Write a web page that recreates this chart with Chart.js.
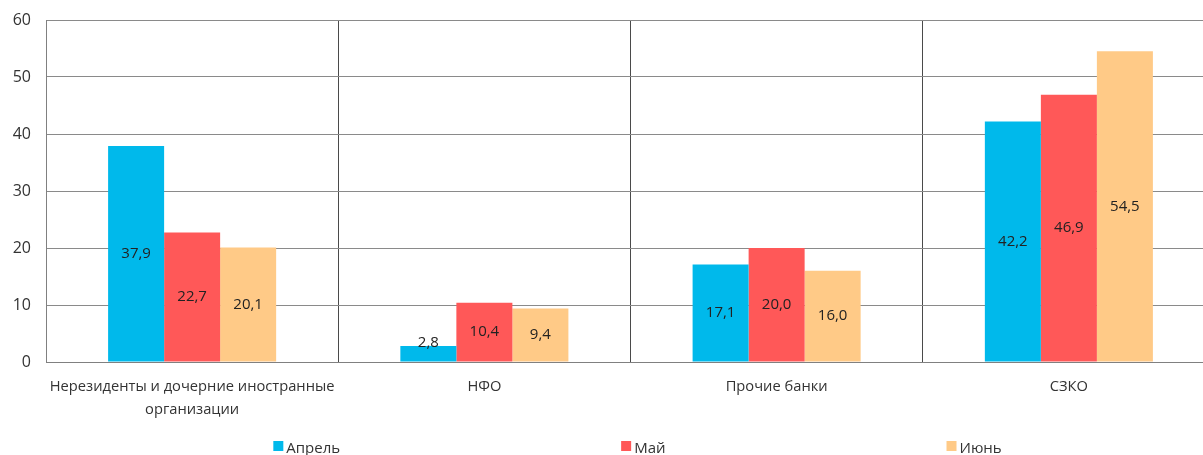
<!DOCTYPE html>
<html>
<head>
<meta charset="utf-8">
<script src="https://cdn.jsdelivr.net/npm/chart.js@4.4.1/dist/chart.umd.min.js"></script>
<style>
  html, body { margin: 0; padding: 0; background: #fff; overflow: hidden; }
  #wrap { width: 1216px; height: 455px; position: relative; }
</style>
</head>
<body>
<div id="wrap"><canvas id="c"></canvas></div>
<script>
const categories = [
  ["Нерезиденты и дочерние иностранные", "организации"],
  "НФО",
  "Прочие банки",
  "СЗКО"
];
const seriesNames = ["Апрель", "Май", "Июнь"];
const aprilValues = [37.9, 2.8, 17.1, 42.2];
const mayValues = [22.7, 10.4, 20.0, 46.9];
const juneValues = [20.1, 9.4, 16.0, 54.5];
const yTicks = [0, 10, 20, 30, 40, 50, 60];

const colors = ["rgb(0,185,235)", "rgb(255,88,88)", "rgb(255,202,135)"];
const FONT = "'Open Sans', Lato, sans-serif";
const TEXT = "#333333";

const labelPlugin = {
  id: "barLabels",
  afterDatasetsDraw(chart) {
    const ctx = chart.ctx;
    ctx.save();
    ctx.font = "15px " + FONT;
    ctx.fillStyle = "#222222";
    ctx.textAlign = "center";
    ctx.textBaseline = "middle";
    chart.data.datasets.forEach((ds, i) => {
      const meta = chart.getDatasetMeta(i);
      meta.data.forEach((bar, j) => {
        const v = ds.data[j];
        const mid = (bar.y + bar.base) / 2;
        const y = Math.min(mid, bar.base - 19);
        ctx.fillText(v.toFixed(1).replace(".", ","), bar.x, y);
      });
    });
    ctx.restore();
  }
};

const legendPlugin = {
  id: "customLegend",
  afterDraw(chart) {
    const ctx = chart.ctx;
    ctx.save();
    ctx.font = "15px " + FONT;
    ctx.textBaseline = "middle";
    ctx.textAlign = "left";
    const box = 10, gapText = 3, gap = 281;
    const items = chart.data.datasets.map(ds => ({
      label: ds.label, color: ds.backgroundColor,
      w: box + gapText + ctx.measureText(ds.label).width
    }));
    const total = items.reduce((s, it) => s + it.w, 0) + gap * (items.length - 1);
    const cx = (chart.chartArea.left + chart.chartArea.right) / 2 + 7;
    let x = cx - total / 2;
    const yBox = 441;
    items.forEach(it => {
      ctx.fillStyle = it.color;
      ctx.fillRect(x, yBox, box, box);
      ctx.fillStyle = TEXT;
      ctx.fillText(it.label, x + box + gapText, yBox + 8);
      x += it.w + gap;
    });
    ctx.restore();
  }
};

new Chart(document.getElementById("c"), {
  type: "bar",
  data: {
    labels: categories,
    datasets: [
      { label: seriesNames[0], data: aprilValues, backgroundColor: colors[0] },
      { label: seriesNames[1], data: mayValues, backgroundColor: colors[1] },
      { label: seriesNames[2], data: juneValues, backgroundColor: colors[2] }
    ]
  },
  options: {
    responsive: true,
    maintainAspectRatio: false,
    animation: false,
    layout: { padding: { top: 20, right: 1, bottom: 0, left: 0 } },
    datasets: { bar: { barPercentage: 1, categoryPercentage: 0.575 } },
    plugins: { legend: { display: false }, tooltip: { enabled: false } },
    scales: {
      x: {
        grid: { display: true, offset: true, color: "#4a4a4a", lineWidth: 1, drawTicks: false },
        border: { display: true, color: "#808080" },
        ticks: { color: TEXT, font: { family: FONT, size: 14.7, lineHeight: 1.57 }, padding: 13, maxRotation: 0, autoSkip: false },
        afterFit(scale) { scale.height = 93; scale.paddingLeft = 0; scale.paddingRight = 0; }
      },
      y: {
        min: 0, max: 60,
        afterBuildTicks(scale) { scale.ticks = yTicks.map(v => ({ value: v })); },
        grid: { color: "#8a8a8a", lineWidth: 1, drawTicks: false },
        border: { display: true, color: "#808080" },
        ticks: { color: TEXT, font: { family: FONT, size: 16 }, padding: 15 },
        afterFit(scale) { scale.width = 46; scale.paddingTop = 0; scale.paddingBottom = 0; }
      }
    }
  },
  plugins: [labelPlugin, legendPlugin]
});
</script>
</body>
</html>
